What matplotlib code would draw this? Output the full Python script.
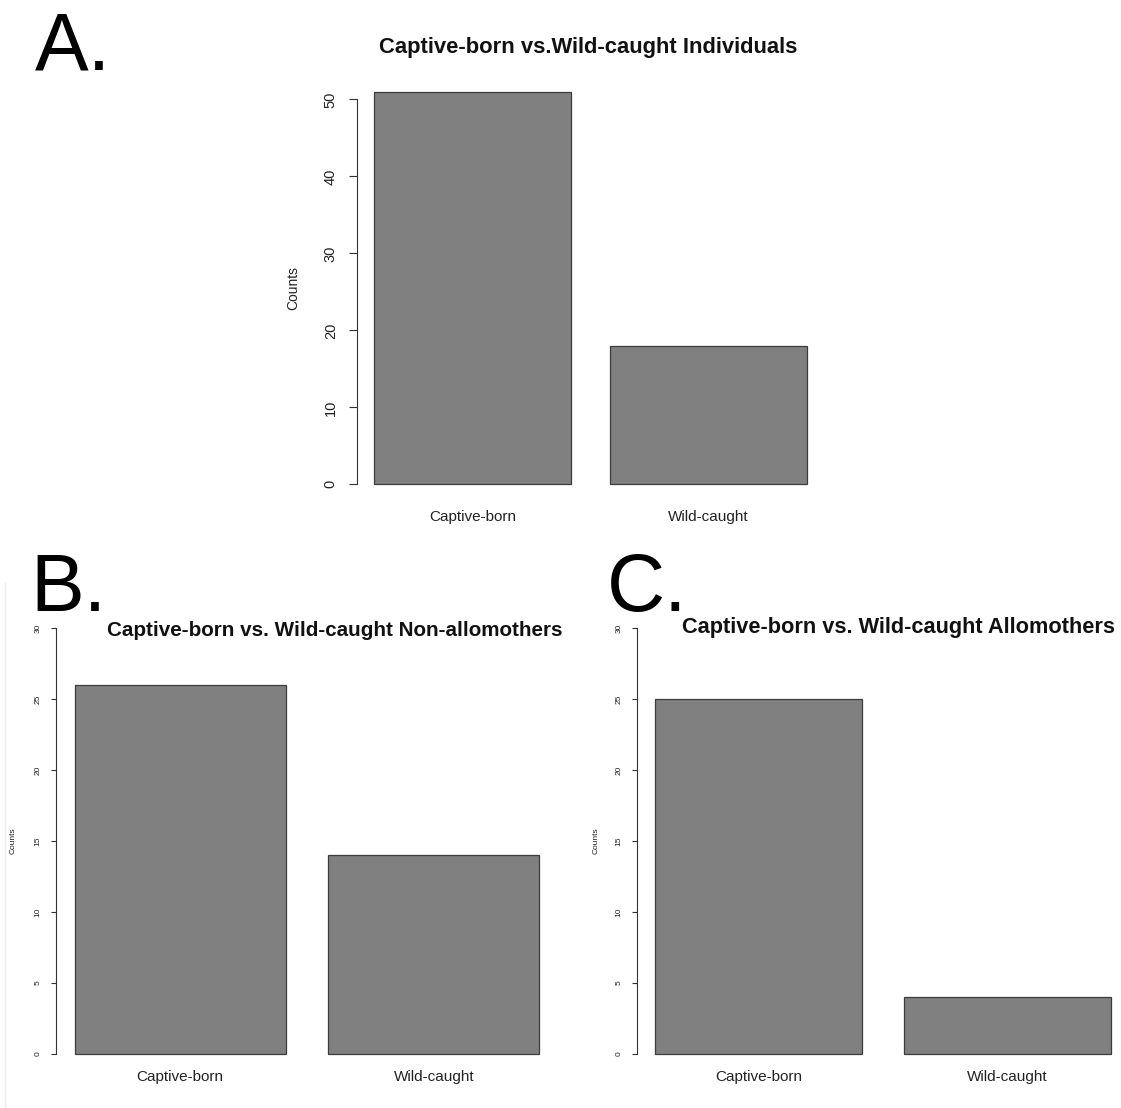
import matplotlib
matplotlib.use("Agg")
import matplotlib.pyplot as plt
from matplotlib import font_manager
from matplotlib.lines import Line2D

# Counts of captive-born vs wild-caught individuals
categories = ["Captive-born", "Wild-caught"]
all_counts = [51, 18]
nonallo_counts = [26, 14]
allo_counts = [25, 4]

titles = [
    "Captive-born vs.Wild-caught Individuals",
    "Captive-born vs. Wild-caught Non-allomothers",
    "Captive-born vs. Wild-caught Allomothers",
]
panel_letters = ["A.", "B.", "C."]
yticks_a = [0, 10, 20, 30, 40, 50]
yticks_bc = [0, 5, 10, 15, 20, 25, 30]

names = {f.name for f in font_manager.fontManager.ttflist}
BODY = "Liberation Sans" if "Liberation Sans" in names else "DejaVu Sans"
plt.rcParams["font.family"] = [BODY, "DejaVu Sans"]

W, H = 1121, 1108
fig = plt.figure(figsize=(W / 100, H / 100), dpi=100)
fig.patch.set_facecolor("white")


def px_axes(x0, y0, x1, y1):
    """Axes rectangle from pixel corners (top-left origin)."""
    return fig.add_axes([x0 / W, 1 - y1 / H, (x1 - x0) / W, (y1 - y0) / H])


BAR_FACE = "#808080"
BAR_EDGE = "#3c3c3c"
# R-style barplot geometry: width 1, space 0.2, 4% axis padding
centers = [0.7, 1.9]
xlim = (0.112, 2.488)


def draw_panel(ax, counts, yticks, ymax, tick_fs, tick_len, tick_pad,
               ylab_fs, ylab_x, cat_fs, cat_pad):
    ax.bar(centers, counts, width=1.0, color=BAR_FACE, edgecolor=BAR_EDGE,
           linewidth=0.9)
    ax.set_xlim(*xlim)
    pad = 0.04 * ymax
    ax.set_ylim(-pad, ymax + pad)
    for s in ("top", "right", "bottom"):
        ax.spines[s].set_visible(False)
    ax.spines["left"].set_bounds(yticks[0], yticks[-1])
    ax.spines["left"].set_color("#333333")
    ax.spines["left"].set_linewidth(0.8)
    ax.set_yticks(yticks)
    ax.set_yticklabels([str(t) for t in yticks], rotation=90, va="center",
                       fontsize=tick_fs, color="#222222")
    ax.tick_params(axis="y", direction="out", length=tick_len, width=0.8,
                   pad=tick_pad, color="#333333")
    ax.set_xticks(centers)
    ax.set_xticklabels(categories, fontsize=cat_fs, color="#222222")
    ax.tick_params(axis="x", length=0, pad=cat_pad)
    ax.set_ylabel("Counts", fontsize=ylab_fs, color="#222222")
    ax.yaxis.label.set_va("center")
    ax.yaxis.set_label_coords(ylab_x, 0.5)
    ax.patch.set_alpha(0)


ax_a = px_axes(357, 76, 824, 500)
draw_panel(ax_a, all_counts, yticks_a, 51, 10.5, 5.8, 8, 10,
           (293 - 357) / 467, 11, 7)

ax_b = px_axes(56, 611, 558, 1071)
draw_panel(ax_b, nonallo_counts, yticks_bc, 30, 6, 3.6, 7, 6,
           (13 - 56) / 502, 11, -1)

ax_c = px_axes(637, 611, 1129, 1071)
draw_panel(ax_c, allo_counts, yticks_bc, 30, 6, 3.6, 7, 6,
           (596 - 637) / 492, 11, -1)

# Panel titles: bold, sized so each spans its target pixel width
renderer = fig.canvas.get_renderer()
title_specs = [(titles[0], 379, 797, 48), (titles[1], 107, 563, 630),
               (titles[2], 681, 1115, 627)]
for text, x0, x1, yc in title_specs:
    t = fig.text((x0 + x1) / 2 / W, 1 - yc / H, text, fontsize=19,
                 fontweight="bold", ha="center", va="center", color="#111111")
    w = t.get_window_extent(renderer).width
    t.set_fontsize(19 * (x1 - x0) / w)

# Panel letters
letter_kw = dict(fontsize=58, ha="left", va="baseline", color="black")
fig.text(35 / W, 1 - 69 / H, panel_letters[0], **letter_kw)
fig.text(30 / W, 1 - 611 / H, panel_letters[1], **letter_kw)
fig.text(607 / W, 1 - 611 / H, panel_letters[2], **letter_kw)

# faint frame edge left of panel B
fig.add_artist(Line2D([5 / W, 5 / W], [0, 1 - 583 / H], transform=fig.transFigure,
                      color="#eeeeee", linewidth=1))

fig.savefig("out.png", dpi=100, facecolor="white")
